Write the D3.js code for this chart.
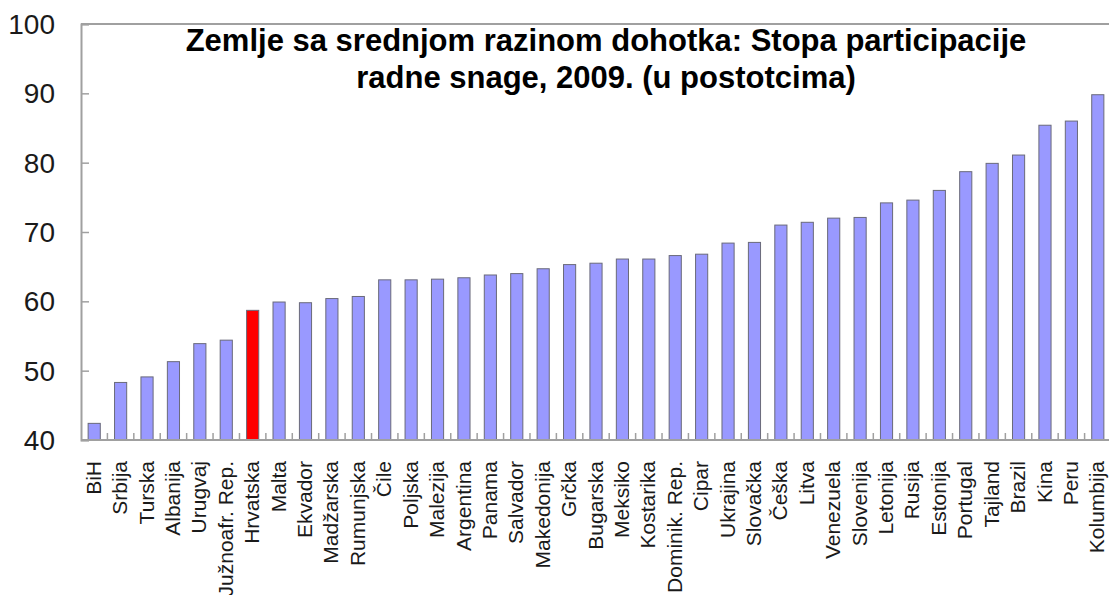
<!DOCTYPE html>
<html>
<head>
<meta charset="utf-8">
<script src="https://cdn.jsdelivr.net/npm/d3@7"></script>
<style>
  body { margin: 0; background: #fff; }
  svg { display: block; font-family: "Liberation Sans", Arial, sans-serif; }
</style>
</head>
<body>
<svg id="chart" width="1109" height="595"></svg>
<script>
// countries, sorted by participation rate
var countries = ['BiH', 'Srbija', 'Turska', 'Albanija', 'Urugvaj', 'Južnoafr. Rep.', 'Hrvatska',
  'Malta', 'Ekvador', 'Madžarska', 'Rumunjska', 'Čile', 'Poljska', 'Malezija', 'Argentina',
  'Panama', 'Salvador', 'Makedonija', 'Grčka', 'Bugarska', 'Meksiko', 'Kostarika',
  'Dominik. Rep.', 'Cipar', 'Ukrajina', 'Slovačka', 'Češka', 'Litva', 'Venezuela',
  'Slovenija', 'Letonija', 'Rusija', 'Estonija', 'Portugal', 'Tajland', 'Brazil',
  'Kina', 'Peru', 'Kolumbija'];

var rates = [42.4, 48.3, 49.1, 51.3, 53.9, 54.4, 58.7,
  59.9, 59.8, 60.4, 60.7, 63.1, 63.1, 63.2, 63.4,
  63.8, 64.0, 64.7, 65.3, 65.5, 66.1, 66.1,
  66.6, 66.8, 68.4, 68.5, 71.0, 71.4, 72.0,
  72.1, 74.2, 74.6, 76.0, 78.7, 79.9, 81.1,
  85.4, 86.0, 89.8];

var yTicks = [40, 50, 60, 70, 80, 90, 100];
var highlight = 'Hrvatska';

var titleLines = ['Zemlje sa srednjom razinom dohotka: Stopa participacije',
  'radne snage, 2009. (u postotcima)'];

var margin = {top: 24, left: 81, bottom: 155, right: -2};
var width = 1109, height = 595;

var svg = d3.select('#chart');

var x = d3.scaleBand()
  .domain(countries)
  .range([margin.left, width - margin.right])
  .paddingInner(0.54)
  .paddingOuter(0.27);

var y = d3.scaleLinear()
  .domain([40, 100])
  .range([height - margin.bottom, margin.top]);

var axisColor = '#a0a0a0';

// bars
svg.append('g').selectAll('rect').data(countries).enter()
  .append('rect')
    .attr('x', function(d) { return x(d); })
    .attr('y', function(d, i) { return y(rates[i]); })
    .attr('width', x.bandwidth())
    .attr('height', function(d, i) { return y(40) - y(rates[i]); })
    .attr('fill', function(d) { return d == highlight ? '#ff0000' : '#9999ff'; })
    .attr('stroke', '#6a6a7a')
    .attr('stroke-width', 1);

// frame: top line
svg.append('line')
  .attr('x1', margin.left).attr('x2', width)
  .attr('y1', y(100)).attr('y2', y(100))
  .attr('stroke', axisColor).attr('stroke-width', 2);

// y axis, ticks pointing into the plot
var yAxis = svg.append('g')
  .attr('transform', 'translate(' + margin.left + ',0)')
  .call(d3.axisRight(y).tickValues(yTicks).tickSize(8).tickFormat(''));
yAxis.select('.domain').attr('stroke', axisColor).attr('stroke-width', 2);
yAxis.selectAll('.tick line').attr('stroke', axisColor).attr('stroke-width', 1.5);

svg.append('g').selectAll('text').data(yTicks).enter()
  .append('text')
    .attr('x', 55)
    .attr('y', function(d) { return y(d); })
    .attr('dy', '0.36em')
    .attr('text-anchor', 'end')
    .attr('font-size', 28)
    .attr('fill', '#1a1a1a')
    .text(function(d) { return d; });

// x axis baseline with small separators between bars
var step = x.step();
var separators = countries.slice(1).map(function(d) { return x(d) - (step - x.bandwidth()) / 2; });

svg.append('line')
  .attr('x1', margin.left).attr('x2', width)
  .attr('y1', y(40)).attr('y2', y(40))
  .attr('stroke', axisColor).attr('stroke-width', 2);

svg.append('g').selectAll('line').data(separators).enter()
  .append('line')
    .attr('x1', function(d) { return d; })
    .attr('x2', function(d) { return d; })
    .attr('y1', y(40))
    .attr('y2', y(40) - 7)
    .attr('stroke', axisColor)
    .attr('stroke-width', 1.5);

// category labels, rotated
svg.append('g').selectAll('text').data(countries).enter()
  .append('text')
    .attr('transform', function(d) {
      return 'translate(' + (x(d) + x.bandwidth() / 2 - 1) + ',' + (y(40) + 21) + ') rotate(-90)';
    })
    .attr('dy', '0.36em')
    .attr('text-anchor', 'end')
    .attr('font-size', 21)
    .attr('fill', '#1a1a1a')
    .text(function(d) { return d; });

// title
svg.append('g').selectAll('text').data(titleLines).enter()
  .append('text')
    .attr('x', 606)
    .attr('y', function(d, i) { return 51 + i * 37; })
    .attr('text-anchor', 'middle')
    .attr('font-size', 31)
    .attr('font-weight', 'bold')
    .attr('fill', '#000')
    .text(function(d) { return d; });
</script>
</body>
</html>
